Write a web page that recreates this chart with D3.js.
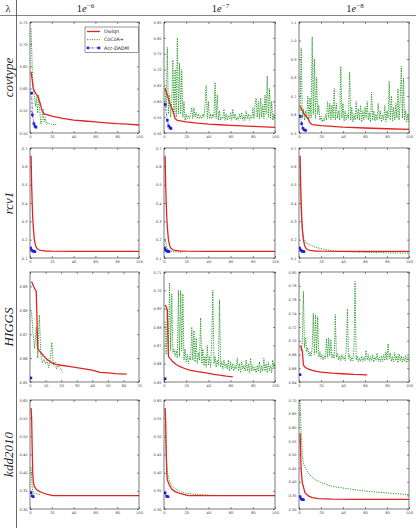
<!DOCTYPE html>
<html><head><meta charset="utf-8">
<script src="https://cdn.jsdelivr.net/npm/d3@7"></script>
<style>body{margin:0;background:#fff}</style>
</head><body><svg id="c" width="416" height="528"></svg>
<script>
// ---------- labels ----------
const datasets = ["covtype", "rcv1", "HIGGS", "kdd2010"];
const lambdaExp = ["−6", "−7", "−8"];
const seriesNames = ["Owlqn", "CoCoA+", "Acc-DADM"];

// ---------- axes (per row, per column) ----------
const yTicks = [
  [[0.50,0.55,0.60,0.65,0.70,0.75],[0.50,0.55,0.60,0.65,0.70,0.75,0.80,0.85],[0.5,0.6,0.7,0.8,0.9,1.0,1.1]],
  [[0.1,0.2,0.3,0.4,0.5,0.6,0.7],[0.1,0.2,0.3,0.4,0.5,0.6,0.7],[0.1,0.2,0.3,0.4,0.5,0.6,0.7]],
  [[0.65,0.66,0.67,0.68,0.69],[0.65,0.66,0.67,0.68,0.69,0.70,0.71],[0.64,0.66,0.68,0.70,0.72,0.74,0.76,0.78,0.80]],
  [[0.30,0.35,0.40,0.45,0.50,0.55,0.60],[0.30,0.35,0.40,0.45,0.50,0.55,0.60],[0.30,0.35,0.40,0.45,0.50,0.55,0.60,0.65,0.70]]
];
const yTickDigits = [[2,2,1],[1,1,1],[2,2,2],[2,2,2]];
const yDomains = [
  [[0.50,0.75],[0.50,0.85],[0.5,1.1]],
  [[0.1,0.7],[0.1,0.7],[0.1,0.7]],
  [[0.65,0.696],[0.65,0.71],[0.64,0.80]],
  [[0.30,0.60],[0.30,0.60],[0.30,0.70]]
];
const xTicks100 = [0,20,40,60,80,100];
const xTicks70 = [0,10,20,30,40,50,60,70];

// ---------- covtype ----------
const owlqnCov6 = [[1,0.638],[2,0.62],[3,0.60],[5,0.59],[7,0.583],[9,0.57],[11,0.55],[13,0.543],[20,0.538],[30,0.533],[40,0.529],[50,0.527],[60,0.525],[70,0.523],[80,0.521],[90,0.52],[100,0.518]];
const cocoaCov6 = [[1,0.735],[2,0.65],[3,0.60],[4,0.585],[5,0.56],[6,0.58],[7,0.545],[8,0.585],[9,0.55],[10,0.52],[11,0.53],[12,0.555],[13,0.525],[14,0.535],[15,0.52],[18,0.522],[20,0.518],[23,0.52],[25,0.518]];
const dadmCov6 = [[1.5,0.59],[2.2,0.541],[3.6,0.521],[4.6,0.515],[5.5,0.513]];

const owlqnCov7 = [[1,0.641],[3,0.62],[5,0.595],[8,0.57],[10,0.545],[12,0.54],[20,0.535],[30,0.531],[40,0.528],[50,0.526],[60,0.524],[80,0.521],[100,0.518]];
const cocoaCov7 = [0.64,0.58,0.77,0.56,0.62,0.55,0.60,0.73,0.56,0.70,0.55,0.80,0.56,0.72,0.56,0.70,0.55,0.60,0.54,0.56,
  0.545,0.555,0.545,0.56,0.58,0.545,0.58,0.55,0.565,0.545,0.56,0.545,0.555,0.545,0.56,0.55,0.59,0.65,0.545,0.60,
  0.545,0.56,0.545,0.56,0.55,0.66,0.545,0.62,0.54,0.57,0.54,0.55,0.545,0.575,0.54,0.56,0.54,0.555,0.545,0.565,
  0.54,0.575,0.545,0.56,0.54,0.55,0.54,0.56,0.545,0.565,0.54,0.555,0.54,0.57,0.545,0.56,0.54,0.555,0.545,0.58,
  0.545,0.59,0.61,0.55,0.60,0.545,0.61,0.55,0.59,0.545,0.62,0.56,0.68,0.55,0.64,0.545,0.60,0.54,0.56,0.545];
const dadmCov7 = [[1,0.59],[3,0.54],[4.2,0.522],[5.4,0.517],[6.3,0.514]];

const owlqnCov8 = [[1,0.645],[3,0.62],[5,0.60],[8,0.58],[10,0.555],[12,0.545],[20,0.54],[40,0.532],[60,0.527],[80,0.523],[100,0.52]];
const cocoaCov8 = [0.62,0.96,0.58,0.63,0.57,0.62,0.58,0.70,0.57,0.69,0.58,1.02,0.60,0.90,0.58,0.80,0.60,0.65,0.57,0.59,
  0.56,0.58,0.565,0.60,0.57,0.67,0.58,0.66,0.57,0.65,0.58,0.74,0.57,0.66,0.58,0.62,0.57,0.86,0.58,0.66,
  0.565,0.62,0.57,0.60,0.58,0.83,0.57,0.64,0.56,0.60,0.57,0.67,0.575,0.63,0.57,0.65,0.56,0.62,0.57,0.64,
  0.58,0.67,0.57,0.61,0.56,0.72,0.57,0.62,0.565,0.60,0.57,0.66,0.575,0.62,0.56,0.60,0.57,0.65,0.56,0.62,
  0.58,0.78,0.57,0.70,0.565,0.64,0.57,0.66,0.58,0.74,0.57,0.68,0.86,0.58,0.80,0.57,0.62,0.56,0.60,0.56];
const dadmCov8 = [[1.2,0.59],[2.4,0.55],[3.6,0.525],[4.8,0.517],[6,0.514]];

// ---------- rcv1 ----------
const owlqnRcv6 = [[1,0.658],[1.5,0.50],[2,0.40],[2.5,0.32],[3,0.27],[4,0.20],[5,0.17],[6,0.155],[8,0.145],[10,0.141],[15,0.138],[20,0.137],[40,0.136],[60,0.136],[80,0.136],[100,0.136]];
const cocoaRcv6 = [];
const dadmRcv6 = [[0.5,0.155],[1.5,0.143],[2.5,0.138],[3.5,0.136],[4.5,0.135]];

const owlqnRcv7 = [[1,0.658],[1.5,0.50],[2,0.40],[2.5,0.32],[3,0.27],[4,0.20],[5,0.17],[6,0.155],[8,0.145],[10,0.141],[15,0.138],[20,0.137],[40,0.136],[60,0.136],[80,0.136],[100,0.136]];
const cocoaRcv7 = [[1,0.205],[2,0.17],[3,0.15],[5,0.14],[8,0.135],[12,0.133],[17,0.132]];
const dadmRcv7 = [[0.5,0.155],[1.5,0.143],[2.5,0.138],[3.5,0.136],[4.5,0.135]];

const owlqnRcv8 = [[1,0.658],[1.5,0.50],[2,0.40],[2.5,0.32],[3,0.26],[4,0.20],[5,0.17],[6,0.155],[8,0.145],[10,0.141],[15,0.138],[20,0.137],[40,0.136],[60,0.136],[80,0.136],[100,0.136]];
const cocoaRcv8 = [[1,0.55],[2,0.35],[3,0.25],[4,0.21],[6.6,0.182],[12.6,0.164],[18,0.154],[24.7,0.145],[30,0.14],[36.7,0.136],[50,0.133],[67,0.13],[85,0.128],[100,0.127]];
const dadmRcv8 = [[0.5,0.155],[1.5,0.143],[2.5,0.138],[3.5,0.136],[4.5,0.135]];

// ---------- HIGGS ----------
const owlqnHig6 = [[1,0.692],[2,0.6905],[3,0.689],[4,0.688],[5,0.664],[6,0.663],[8,0.6615],[10,0.660],[12,0.659],[14,0.658],[16,0.6575],[20,0.657],[25,0.6565],[30,0.656],[35,0.6555],[40,0.655],[45,0.654],[50,0.6538],[55,0.6535],[62,0.6533]];
const cocoaHig6 = [[1,0.679],[2,0.670],[3,0.664],[4,0.673],[5,0.660],[6,0.678],[7,0.661],[8,0.658],[9,0.6595],[10,0.6575],[11,0.659],[12,0.656],[13,0.6595],[14,0.6665],[15,0.657],[16,0.6585],[17,0.6555],[18,0.657],[19,0.656],[20,0.6555],[21,0.654]];
const dadmHig6 = [[0.6,0.6517]];

const owlqnHig7 = [[1,0.692],[2,0.691],[3,0.689],[4,0.664],[6,0.6625],[8,0.661],[11,0.6595],[14,0.6585],[18,0.6575],[23,0.6565],[30,0.6557],[38,0.655],[45,0.6542],[50,0.6537],[56,0.6532],[62,0.6528]];
const cocoaHig7 = [0.683,0.665,0.690,0.668,0.704,0.667,0.698,0.666,0.668,0.664,0.667,0.663,0.700,0.664,0.700,0.667,0.698,0.662,0.668,0.661,
  0.665,0.660,0.664,0.662,0.680,0.662,0.678,0.661,0.674,0.660,0.666,0.662,0.685,0.660,0.668,0.659,0.664,0.658,0.670,0.659,
  0.664,0.658,0.672,0.700,0.660,0.664,0.658,0.662,0.659,0.695,0.658,0.661,0.657,0.662,0.658,0.660,0.657,0.662,0.656,0.661,
  0.657,0.660,0.656,0.659,0.657,0.663,0.656,0.660,0.655,0.661,0.657,0.659,0.656,0.662,0.656,0.660,0.655,0.663,0.656,0.659,
  0.656,0.658,0.655,0.659,0.656,0.661,0.655,0.659,0.656,0.663,0.656,0.660,0.655,0.661,0.656,0.659,0.655,0.662,0.657,0.660];
const dadmHig7 = [[1,0.6518]];

const owlqnHig8 = [[1,0.693],[2,0.691],[3,0.685],[4,0.665],[5,0.662],[8,0.659],[12,0.657],[16,0.6555],[20,0.6545],[30,0.653],[40,0.652],[50,0.651],[62,0.6505]];
const cocoaHig8 = [0.692,0.685,0.700,0.772,0.690,0.705,0.684,0.690,0.678,0.684,0.677,0.690,0.740,0.680,0.738,0.682,0.735,0.676,0.684,0.674,
  0.680,0.672,0.678,0.674,0.703,0.676,0.704,0.678,0.702,0.675,0.680,0.674,0.738,0.676,0.682,0.672,0.678,0.671,0.680,0.673,
  0.677,0.671,0.690,0.746,0.674,0.680,0.670,0.676,0.671,0.690,0.786,0.672,0.678,0.669,0.675,0.670,0.678,0.670,0.676,0.671,
  0.686,0.672,0.680,0.670,0.677,0.671,0.680,0.669,0.676,0.672,0.682,0.670,0.676,0.669,0.678,0.670,0.680,0.671,0.684,0.672,
  0.696,0.674,0.682,0.670,0.677,0.669,0.683,0.671,0.678,0.668,0.681,0.671,0.678,0.669,0.676,0.670,0.679,0.668,0.676,0.670];
const dadmHig8 = [[1,0.6507]];

// ---------- kdd2010 ----------
const owlqnKdd6 = [[1,0.578],[1.5,0.55],[2,0.47],[2.5,0.40],[3,0.375],[4,0.362],[6,0.353],[9,0.348],[12,0.344],[15,0.341],[18,0.339],[21,0.337],[40,0.337],[60,0.337],[80,0.337],[100,0.337]];
const cocoaKdd6 = [[1,0.415],[2,0.36],[3,0.345],[5,0.343],[7,0.341],[9,0.340]];
const dadmKdd6 = [[1,0.345],[2,0.336],[3,0.334]];

const owlqnKdd7 = [[1,0.578],[1.5,0.54],[2,0.46],[2.5,0.40],[3,0.38],[5,0.365],[7,0.355],[10,0.348],[15,0.342],[20,0.338],[22,0.337],[40,0.337],[60,0.337],[80,0.337],[100,0.337]];
const cocoaKdd7 = [[1,0.53],[2,0.45],[3,0.40],[5,0.377],[7,0.365],[10,0.356],[15,0.347],[20,0.343],[30,0.34],[40,0.338],[50,0.337],[60,0.337],[70,0.337]];
const dadmKdd7 = [[1,0.344],[2.4,0.335],[3.6,0.334]];

const owlqnKdd8 = [[1,0.578],[1.5,0.50],[2,0.44],[3,0.397],[5.4,0.36],[8.5,0.348],[12,0.342],[17.5,0.338],[30,0.336],[50,0.335],[75,0.335],[100,0.335]];
const cocoaKdd8 = [[1,0.69],[2,0.58],[3,0.50],[4,0.465],[6,0.448],[8.5,0.432],[11,0.42],[14.5,0.408],[20,0.397],[25,0.39],[30,0.383],[40,0.377],[50,0.371],[60,0.366],[70,0.362],[80,0.359],[90,0.356],[100,0.352]];
const dadmKdd8 = [[1,0.345],[2,0.337],[3,0.335],[4,0.334]];

// ---------- assemble ----------
const asPairs = a => (a.length && typeof a[0] === "number") ? a.map((v, i) => [i + 1, v]) : a;
const grid = [
  [[owlqnCov6, cocoaCov6, dadmCov6], [owlqnCov7, cocoaCov7, dadmCov7], [owlqnCov8, cocoaCov8, dadmCov8]],
  [[owlqnRcv6, cocoaRcv6, dadmRcv6], [owlqnRcv7, cocoaRcv7, dadmRcv7], [owlqnRcv8, cocoaRcv8, dadmRcv8]],
  [[owlqnHig6, cocoaHig6, dadmHig6], [owlqnHig7, cocoaHig7, dadmHig7], [owlqnHig8, cocoaHig8, dadmHig8]],
  [[owlqnKdd6, cocoaKdd6, dadmKdd6], [owlqnKdd7, cocoaKdd7, dadmKdd7], [owlqnKdd8, cocoaKdd8, dadmKdd8]]
];

const colors = ["#e02424", "#2a9a2a", "#1c1ce6"];
const colX = [[30, 139], [164, 275], [299, 409]];
const rowY = [[22, 133], [148, 258], [272, 382], [400, 509]];

const svg = d3.select("#c");
svg.append("rect").attr("width", 416).attr("height", 528).attr("fill", "#fff");

// header / separators
svg.append("line").attr("x1", 0).attr("x2", 416).attr("y1", 15.5).attr("y2", 15.5).attr("stroke", "#666").attr("stroke-width", 0.8);
svg.append("line").attr("x1", 16.5).attr("x2", 16.5).attr("y1", 0).attr("y2", 528).attr("stroke", "#444").attr("stroke-width", 0.8);
svg.append("text").attr("x", 8).attr("y", 11.5).attr("text-anchor", "middle")
  .attr("font-family", "Liberation Serif, serif").attr("font-size", 10.5).attr("fill", "#222").text("λ");
lambdaExp.forEach((e, c) => {
  const t = svg.append("text").attr("x", (colX[c][0] + colX[c][1]) / 2 + 1).attr("y", 11.5)
    .attr("text-anchor", "middle").attr("font-family", "Liberation Serif, serif").attr("font-size", 10.5).attr("fill", "#222");
  t.append("tspan").text("1");
  t.append("tspan").attr("font-style", "italic").text("e");
  t.append("tspan").attr("font-size", 7).attr("dy", -4).text(e);
});
datasets.forEach((d, r) => {
  const cy = (rowY[r][0] + rowY[r][1]) / 2;
  svg.append("text").attr("transform", `translate(12.5,${cy}) rotate(-90)`).attr("text-anchor", "middle")
    .attr("font-family", "Liberation Serif, serif").attr("font-style", "italic").attr("font-size", 13).attr("fill", "#222").text(d);
});

const fs = 3.6;
grid.forEach((rowData, r) => {
  rowData.forEach((cell, c) => {
    const [x0, x1] = colX[c], [y0, y1] = rowY[r];
    const w = x1 - x0, h = y1 - y0;
    const isH70 = (r === 2 && c === 0);
    const x = d3.scaleLinear().domain([0, isH70 ? 70 : 100]).range([0, w]);
    const y = d3.scaleLinear().domain(yDomains[r][c]).range([h, 0]);
    const g = svg.append("g").attr("transform", `translate(${x0},${y0})`);
    const cid = `clip${r}${c}`;
    g.append("clipPath").attr("id", cid).append("rect").attr("width", w).attr("height", h);

    const xt = isH70 ? xTicks70 : xTicks100;
    const fmt = d3.format(`.${yTickDigits[r][c]}f`);
    const style = sel => {
      sel.select(".domain").remove();
      sel.selectAll("line").attr("stroke", "#222").attr("stroke-width", 0.5);
      sel.selectAll("text").attr("font-size", fs).attr("font-family", "DejaVu Sans, sans-serif").attr("fill", "#444");
    };
    g.append("g").call(d3.axisLeft(y).tickValues(yTicks[r][c]).tickFormat(fmt).tickSizeInner(-2).tickSizeOuter(0).tickPadding(2.5)).call(style);
    g.append("g").attr("transform", `translate(${w},0)`).call(d3.axisRight(y).tickValues(yTicks[r][c]).tickFormat("").tickSizeInner(-2).tickSizeOuter(0)).call(style);
    g.append("g").attr("transform", `translate(0,${h})`).call(d3.axisBottom(x).tickValues(xt).tickFormat(d3.format("d")).tickSizeInner(-2).tickSizeOuter(0).tickPadding(2.5)).call(style);
    g.append("g").call(d3.axisTop(x).tickValues(xt).tickFormat("").tickSizeInner(-2).tickSizeOuter(0)).call(style);

    const line = d3.line().x(d => x(d[0])).y(d => y(d[1]));
    const pg = g.append("g").attr("clip-path", `url(#${cid})`);
    const [ow, co, da] = cell.map(asPairs);
    if (co.length) pg.append("path").attr("d", line(co)).attr("fill", "none").attr("stroke", colors[1])
      .attr("stroke-width", 1).attr("stroke-dasharray", "1.2,1.2");
    pg.append("path").attr("d", line(ow)).attr("fill", "none").attr("stroke", colors[0]).attr("stroke-width", 1.3);
    pg.append("path").attr("d", line(da)).attr("fill", "none").attr("stroke", colors[2])
      .attr("stroke-width", 0.8).attr("stroke-dasharray", "2,1,0.6,1");
    pg.selectAll("rect.m").data(da).enter().append("rect").attr("class", "m")
      .attr("x", d => x(d[0]) - 1.3).attr("y", d => y(d[1]) - 1.3).attr("width", 2.6).attr("height", 2.6).attr("fill", colors[2]);

    g.append("rect").attr("width", w).attr("height", h).attr("fill", "none").attr("stroke", "#222").attr("stroke-width", 0.6);

    if (r === 0 && c === 0) {
      const lg = g.append("g").attr("transform", "translate(55,5)");
      lg.append("rect").attr("width", 53.5).attr("height", 25.5).attr("fill", "#fff").attr("stroke", "#333").attr("stroke-width", 0.5);
      seriesNames.forEach((n, i) => {
        const yy = 4.5 + i * 8.2;
        const ln = lg.append("line").attr("x1", 2).attr("x2", 15).attr("y1", yy).attr("y2", yy).attr("stroke", colors[i]);
        if (i === 0) ln.attr("stroke-width", 1.3);
        if (i === 1) ln.attr("stroke-width", 1).attr("stroke-dasharray", "1.2,1.2");
        if (i === 2) {
          ln.attr("stroke-width", 0.8).attr("stroke-dasharray", "2,1,0.6,1");
          [3, 14].forEach(px => lg.append("rect").attr("x", px - 1.3).attr("y", yy - 1.3).attr("width", 2.6).attr("height", 2.6).attr("fill", colors[2]));
        }
        lg.append("text").attr("x", 19).attr("y", yy + 1.7).attr("font-size", 4.8)
          .attr("font-family", "DejaVu Sans, sans-serif").attr("fill", "#222").text(n);
      });
    }
  });
});
</script></body></html>
